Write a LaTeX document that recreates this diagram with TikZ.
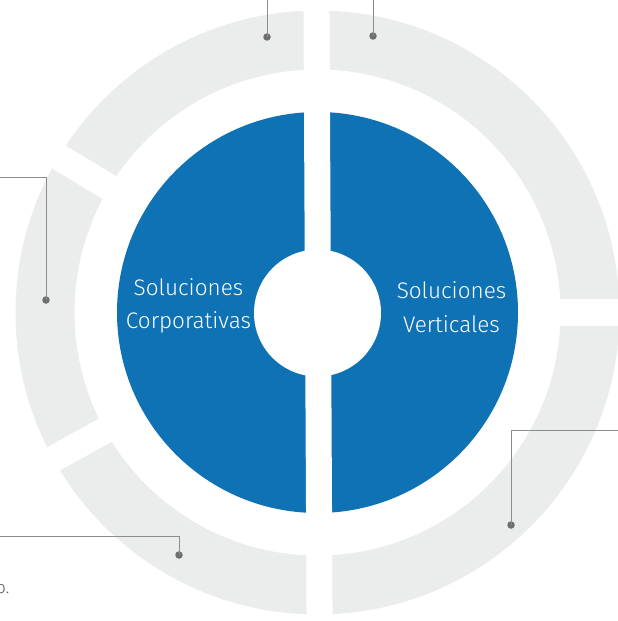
\documentclass[tikz,border=0pt]{standalone}
\usepackage{fontspec}
\setsansfont{Fira Sans}[UprightFont=* Light]
\definecolor{ringgray}{HTML}{EBECEC}
\definecolor{diskblue}{HTML}{0E72B5}
\definecolor{leadgray}{HTML}{8C8C8C}
\definecolor{dotgray}{HTML}{6E6E6E}
\definecolor{textgray}{HTML}{555555}
\tikzset{
  lead/.style={draw=leadgray, line width=1pt},
  leaddot/.style={circle, fill=dotgray, inner sep=0pt, minimum size=7.5pt},
  disklabel/.style={text=white, font=\sffamily\fontsize{22.5}{33.5}\selectfont, align=center, inner sep=0pt},
  gapstrip/.style={fill=white}
}
\begin{document}
\begin{tikzpicture}[x=1pt, y=-1pt]
\useasboundingbox (0,0) rectangle (618,621);
\clip (0,0) rectangle (618,621);
\coordinate (C) at (317.5,312.5);
% gray outer ring
\fill[ringgray, even odd rule] (C) circle (302pt) (C) circle (243pt);
% gaps of the ring
\fill[gapstrip] (540,298.5) rectangle (640,325.5);
\begin{scope}[shift={(C)}, rotate=149]
  \fill[gapstrip] (215,-13.25) rectangle (330,13.25);
\end{scope}
\begin{scope}[shift={(C)}, rotate=209]
  \fill[gapstrip] (215,-13.25) rectangle (330,13.25);
\end{scope}
% blue disk
\fill[diskblue] (C) circle (200.5pt);
% vertical gap through ring and disk
\fill[gapstrip] (303.4,-5) -- (329.4,-5) -- (332.6,626) -- (306.6,626) -- cycle;
% central hole
\fill[white] (317.5,313) circle (63.5pt);
% labels
\node[disklabel] (corp) at (188.5,306) {Soluciones\\Corporativas};
\node[disklabel] (vert) at (451.5,307) {Soluciones\\Verticales};
% leader dots
\node[leaddot] (d1) at (267,37) {};
\node[leaddot] (d2) at (373,36) {};
\node[leaddot] (d3) at (46,300) {};
\node[leaddot] (d4) at (179,555) {};
\node[leaddot] (d5) at (511,525) {};
% free ends
\coordinate (e1) at (267,0);
\coordinate (e2) at (373,0);
\coordinate (e3) at (0,177);
\coordinate (e4) at (0,536);
\coordinate (e5) at (618,430);
\draw[lead] (e1) -- (d1.center);
\draw[lead] (e2) -- (d2.center);
\draw[lead] (e3) -| (d3.center);
\draw[lead] (e4) -| (d4.center);
\draw[lead] (e5) -| (d5.center);
% cut text at lower left
\node[text=textgray, font=\sffamily\fontsize{17}{19}\selectfont, anchor=base east, inner sep=0pt] (tail) at (9.5,593) {o.};
\end{tikzpicture}
\end{document}
